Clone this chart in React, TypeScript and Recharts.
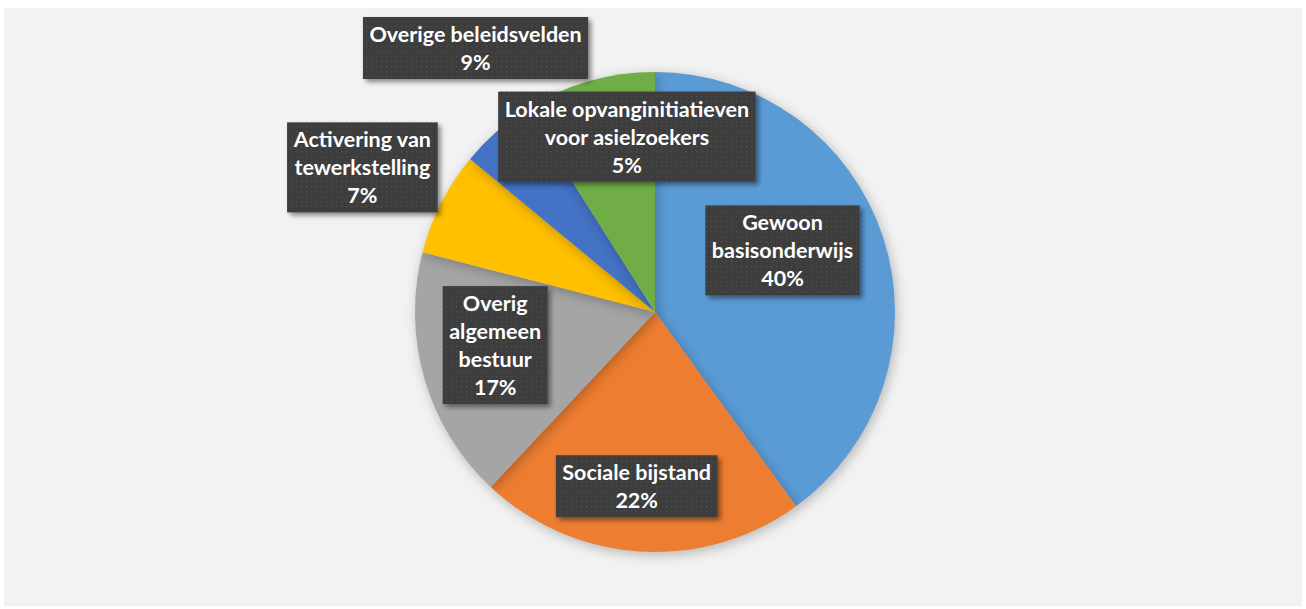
import { PieChart, Pie, Cell } from 'recharts'

const categories = [
  'Gewoon\nbasisonderwijs',
  'Sociale bijstand',
  'Overig\nalgemeen\nbestuur',
  'Activering van\ntewerkstelling',
  'Lokale opvanginitiatieven\nvoor asielzoekers',
  'Overige beleidsvelden',
]
const shares = [40, 22, 17, 7, 5, 9]
const colors = ['#5B9BD5', '#ED7D31', '#A5A5A5', '#FFC000', '#4472C4', '#70AD47']

// label placement (Excel "best fit" look): radius factor and angle shift per slice
const labelRadius = [0.59, 0.73, 0.68, 1.36, 0.74, 1.33]
const labelShift = [7.8, -2.4, -4.5, 0.7, -32.3, 18]

const chartData = categories.map((name, i) => ({ name, value: shares[i] }))

const FONT_SIZE = 21.5
const LINE_H = 28
const FONT = 'Lato'
const RADIAN = Math.PI / 180

let ctx: CanvasRenderingContext2D | null = null
const measure = (s: string) => {
  if (!ctx) {
    ctx = document.createElement('canvas').getContext('2d')
  }
  if (!ctx) return s.length * FONT_SIZE * 0.5
  ctx.font = `bold ${FONT_SIZE}px ${FONT}`
  return ctx.measureText(s).width
}

const BoxLabel = (props: any) => {
  const { cx, cy, midAngle, outerRadius, index, percent, name } = props
  const angle = (midAngle + labelShift[index]) * RADIAN
  const r = outerRadius * labelRadius[index]
  const x = cx + r * Math.cos(angle)
  const y = cy - r * Math.sin(angle)
  const lines = [...String(name).split('\n'), `${Math.round(percent * 100)}%`]
  const w = Math.max(...lines.map(measure)) + 13
  const h = lines.length * LINE_H + 6
  const left = x - w / 2
  const top = y - h / 2
  return (
    <g>
      <rect x={left} y={top} width={w} height={h} fill="#3e3e3e" filter="url(#boxShadow)" />
      <rect x={left} y={top} width={w} height={h} fill="url(#dots)" />
      {lines.map((l, i) => (
        <text
          key={i}
          x={x}
          y={top + 25 + i * LINE_H}
          textAnchor="middle"
          fill="#fff"
          fontFamily={FONT}
          fontWeight="bold"
          fontSize={FONT_SIZE}
        >
          {l}
        </text>
      ))}
    </g>
  )
}

export default function App() {
  return (
    <div style={{ position: 'absolute', left: 0, top: 0, width: 1306, height: 609, background: '#fff' }}>
      <div style={{ position: 'absolute', left: 4, top: 8, width: 1298, height: 598, background: '#F2F2F2' }} />
      <svg width={0} height={0} style={{ position: 'absolute' }}>
        <defs>
          <pattern id="dots" width={5} height={5} patternUnits="userSpaceOnUse">
            <rect x={1} y={1} width={1.2} height={1.2} fill="#4f4f4f" />
          </pattern>
          <filter id="boxShadow" x="-20%" y="-20%" width="140%" height="150%">
            <feDropShadow dx={3} dy={3} stdDeviation={2.5} floodColor="#000" floodOpacity={0.45} />
          </filter>
        </defs>
      </svg>
      <style>{`.main-pie .recharts-pie-sector { filter: drop-shadow(2px 3px 6px rgba(0,0,0,0.25)); }`}</style>
      <div style={{ position: 'absolute', left: 0, top: 0 }}>
        <PieChart width={1306} height={609} margin={{ top: 0, right: 0, bottom: 0, left: 0 }}>
          <Pie
            className="main-pie"
            data={chartData}
            dataKey="value"
            nameKey="name"
            cx={655}
            cy={312}
            outerRadius={240}
            startAngle={90}
            endAngle={-270}
            stroke="none"
            labelLine={false}
            label={BoxLabel}
            isAnimationActive={false}
          >
            {chartData.map((_, i) => (
              <Cell key={`cell-${i}`} fill={colors[i]} />
            ))}
          </Pie>
        </PieChart>
      </div>
    </div>
  )
}
